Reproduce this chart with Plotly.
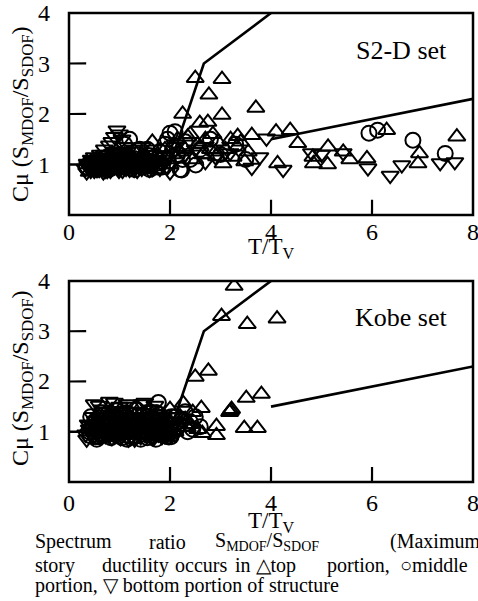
import plotly.graph_objects as go

# ---------------- data ----------------
# design bounds (same in both panels)
bound_upper_x = [0, 2, 2.67, 4]
bound_upper_y = [1, 1, 3, 4]
bound_lower_x = [4, 8]
bound_lower_y = [1.5, 2.3]

# S2-D set
s2d_top_x = [0.4,0.5,0.6,0.7,0.8,0.9,1.0,1.1,1.2,1.3,1.4,1.5,1.6,1.65,1.7,1.8,1.9,2.0,2.05,2.15,
             2.25,2.3,2.4,2.45,2.5,2.55,2.59,2.65,2.7,2.75,2.77,2.8,2.85,2.92,2.95,3.03,3.03,3.05,3.1,3.2,
             3.33,3.34,3.48,3.55,3.62,3.70,4.10,4.13,4.38,4.53,4.84,4.83,5.12,5.13,5.43,5.56,5.90,6.29,6.91,6.94,7.68,
             0.45,0.65,0.85,1.05,1.25,1.45,1.75,1.95,2.2,2.35,2.6,2.9,3.25,3.4,
             0.55,0.75,0.95,1.15,1.35,1.55]
s2d_top_y = [0.85,1.0,0.9,1.05,0.95,1.1,0.9,1.2,1.0,1.1,0.95,1.2,1.05,1.45,0.9,1.1,1.3,1.0,1.2,1.5,
             2.0,1.3,1.6,1.1,2.71,1.4,1.82,1.2,1.5,1.84,2.38,1.3,1.6,1.16,1.45,2.69,1.98,1.02,1.3,1.5,
             1.35,1.56,1.06,1.25,1.58,2.12,1.65,1.02,1.68,1.42,1.02,1.15,1.00,1.35,1.25,1.10,1.12,1.68,1.02,1.22,1.55,
             1.0,0.95,1.15,1.0,0.92,1.1,1.2,1.15,1.25,1.55,1.35,1.25,1.15,1.45,
             0.9,1.05,0.98,0.9,1.02,1.0]

s2d_mid_x = [0.5,0.6,0.7,0.8,0.9,1.0,1.05,1.1,1.2,1.25,1.3,1.35,1.4,1.45,1.5,1.55,1.6,1.7,1.8,1.85,
             1.9,1.95,2.0,2.05,2.1,2.15,2.2,2.23,2.3,2.4,2.51,2.6,2.8,3.0,3.3,3.5,5.94,6.11,6.81,7.45,
             0.55,0.65,0.75,0.85,0.95,1.15,1.65,1.75,2.25,
             0.45,0.62,0.78,0.92,1.08,1.22,1.38,1.52,
             0.35,0.52,0.68,0.83,0.98,1.13,1.28,1.43,1.58,1.73,1.88]
s2d_mid_y = [0.95,1.05,0.9,1.1,1.0,1.2,0.95,1.4,1.5,1.05,0.9,1.2,1.3,0.95,1.1,1.3,0.9,1.15,1.25,0.95,
             1.4,1.5,1.62,1.3,1.65,1.2,0.9,0.89,1.45,1.1,0.99,1.3,1.5,1.2,1.4,1.1,1.62,1.68,1.48,1.22,
             1.0,0.92,1.05,0.98,1.1,1.0,1.05,0.95,1.1,
             1.02,0.98,0.9,1.05,1.1,0.98,1.02,1.0,
             0.95,1.08,1.12,0.92,0.98,1.15,1.12,1.08,1.18,1.02,1.12]

s2d_bot_x = [0.35,0.4,0.42,0.45,0.5,0.52,0.55,0.58,0.6,0.62,0.65,0.68,0.7,0.72,0.75,0.78,0.8,0.82,0.85,0.88,
             0.9,0.92,0.95,0.97,1.0,1.02,1.05,1.08,1.1,1.12,1.15,1.2,1.25,1.3,1.35,1.4,1.45,1.5,1.6,1.7,
             1.8,1.9,2.0,2.1,2.3,2.5,2.7,2.9,3.19,3.62,3.78,3.91,4.24,4.80,5.00,5.43,5.92,6.36,6.59,7.35,7.64,
             0.38,0.48,0.56,0.64,0.74,0.84,0.94,1.04,1.14,1.22,1.32,1.42,1.55,1.65,1.75,1.85,1.95,
             0.44,0.54,0.66,0.76,0.86,0.96,1.06,1.18,
             0.36,0.46,0.57,0.69,0.8,0.91,1.01,1.11,1.27,1.37,0.5,0.7,0.9,1.1,
             0.32,0.37,0.43,0.47,0.53,0.57,0.63,0.67,0.73,0.77,0.83,0.87,0.93,0.99,1.03,1.09,1.13,1.19,
             1.24,1.29,1.34,1.39,1.44,1.49,1.54,1.59,1.64,1.69]
s2d_bot_y = [0.85,1.0,0.92,1.05,0.88,1.02,0.95,1.1,0.9,1.2,1.0,0.85,1.3,1.05,0.95,1.15,1.38,0.88,1.45,1.0,
             1.55,1.1,1.68,0.92,1.6,1.2,1.5,0.95,1.35,1.05,1.25,0.9,1.1,1.3,0.88,1.05,1.35,0.95,1.2,1.0,
             0.92,1.1,0.85,1.4,1.2,1.3,1.05,1.15,1.23,0.94,1.15,1.52,0.9,1.23,1.20,1.23,0.93,0.78,0.99,1.03,1.05,
             0.95,1.08,0.98,1.12,1.02,0.92,1.05,0.98,1.1,1.0,0.95,1.12,1.05,0.92,1.08,1.0,0.95,
             1.1,0.9,1.05,0.88,1.22,1.0,0.88,1.12,
             1.02,0.95,0.98,0.95,1.05,0.97,0.93,1.0,0.97,1.12,1.15,1.2,1.25,1.15,
             0.92,0.98,0.88,1.0,1.08,0.9,0.96,1.1,0.88,1.02,1.12,0.95,1.02,0.88,1.08,1.0,0.92,1.05,
             0.98,0.9,1.1,0.95,0.92,1.05,1.0,0.9,0.98,1.05]

# Kobe set
kobe_top_x = [0.5,0.7,0.9,1.1,1.3,1.5,1.7,1.9,2.1,2.2,0.6,1.0,1.4,1.8,2.0,
              2.26,2.34,2.45,2.50,2.62,2.64,2.76,2.92,2.92,3.02,3.18,3.20,3.22,3.27,3.47,3.51,3.53,3.73,3.81,4.12,
              0.8,1.2,1.6,2.3,2.4,2.55,
              0.4,0.75,1.05,1.35,1.65,1.95]
kobe_top_y = [1.0,1.15,0.9,1.2,1.05,0.95,1.25,1.1,1.0,1.3,1.3,1.05,1.2,0.9,1.45,
              1.57,1.09,1.39,2.09,1.47,0.97,2.21,1.11,0.93,3.30,1.39,1.42,1.45,3.90,1.07,1.67,3.14,1.07,1.75,3.25,
              1.35,0.95,1.1,1.25,1.15,1.05,
              1.1,0.9,1.35,1.25,0.95,1.02]

kobe_mid_x = [0.4,0.5,0.6,0.7,0.8,0.9,1.0,1.1,1.2,1.3,1.4,1.5,1.6,1.7,1.8,1.9,2.0,2.1,2.2,2.3,2.4,2.5,2.6,
              0.45,0.65,0.85,1.05,1.25,1.45,1.65,1.85,2.05,2.25,2.45,1.77,
              0.55,0.75,0.95,1.15,1.35,1.55,1.75,1.95,2.15,2.35,
              0.42,0.62,0.82,1.02,1.22,1.42,1.62,1.82,2.02,0.72,0.92,1.12,1.32,1.52,1.72,1.92,
              0.58,0.88,1.18,1.48,1.78,2.08,0.68,0.98,1.28,1.58,1.88,
              0.43,0.53,0.63,0.73,0.83,0.93,1.03,1.13,1.23,1.33,1.43,1.53,1.63,1.73,1.83,1.93,2.03,2.13]
kobe_mid_y = [1.0,1.2,0.9,1.1,1.3,0.95,1.15,1.05,1.35,0.9,1.2,1.0,1.4,1.1,0.95,1.25,1.05,1.3,1.15,1.4,1.2,1.3,1.1,
              1.1,0.95,1.2,0.88,1.1,1.3,0.92,1.15,1.0,1.25,1.05,1.58,
              0.85,1.0,1.1,0.85,1.05,0.88,1.2,0.9,1.1,1.0,
              0.92,1.08,0.98,1.25,1.0,0.85,1.12,1.02,0.9,1.28,1.02,1.3,1.12,1.22,0.85,1.05,
              1.15,1.1,1.2,1.15,1.35,1.22,0.95,1.25,1.05,0.98,1.1,
              1.3,0.9,1.38,1.02,0.88,1.42,1.08,1.38,0.9,1.45,1.1,1.3,1.22,1.38,1.08,0.95,1.3,1.05]

kobe_bot_x = [0.35,0.4,0.45,0.5,0.55,0.6,0.65,0.7,0.75,0.8,0.85,0.9,0.95,1.0,1.05,1.1,1.15,1.2,1.25,1.3,
              1.35,1.4,1.45,1.5,1.55,1.6,1.65,1.7,1.75,1.8,1.85,1.9,1.95,2.0,2.05,2.1,
              0.38,0.48,0.58,0.68,0.78,0.88,0.98,1.08,1.18,1.28,1.38,1.48,1.58,1.68,1.78,1.88,1.98,2.08,
              0.42,0.52,0.62,0.72,0.82,0.92,1.02,1.12,1.22,1.32,1.42,1.52,1.62,1.72,1.82,1.92,2.02,
              0.6,0.9,1.2,1.5,1.7,
              0.47,0.67,0.87,1.07,1.27,1.47,1.67,1.87,0.57,0.77,0.97,1.17,1.37,1.57,1.77,
              0.33,0.41,0.49,0.56,0.64,0.71,0.79,0.86,0.94,1.01,1.09,1.16,1.24,1.31,1.39,1.46,1.54,1.61,
              1.69,1.76,1.84,1.91,1.99,2.06]
kobe_bot_y = [0.85,1.05,0.95,1.55,1.1,0.9,1.45,1.2,1.0,1.6,0.88,1.3,1.05,1.5,0.92,1.25,1.55,1.0,1.15,0.85,
              1.4,1.05,1.55,0.95,1.2,1.45,0.9,1.1,1.35,1.0,1.25,0.92,1.15,1.05,1.3,0.95,
              1.15,0.9,1.3,1.0,1.2,0.95,1.35,1.1,0.85,1.25,0.98,1.3,1.08,0.88,1.2,1.02,0.9,1.15,
              1.0,1.22,1.05,0.92,1.1,1.18,0.88,1.4,1.02,1.12,0.9,1.25,1.0,1.3,1.12,1.05,1.2,
              1.52,1.58,1.5,1.58,1.52,
              1.3,1.4,1.35,1.42,1.3,1.38,1.28,1.35,0.98,1.05,1.2,1.02,1.15,1.08,0.95,
              0.95,1.12,1.05,0.95,1.25,1.08,0.92,1.15,1.0,1.22,0.95,1.12,0.9,1.05,1.18,1.02,0.92,1.1,
              0.98,1.2,0.9,1.08,1.0,1.12]

x_ticks = [0, 2, 4, 6, 8]
y_ticks = [1, 2, 3, 4]

# ---------------- figure ----------------
SERIF = "Liberation Serif"
fig = go.Figure()

# inner tick lengths in each axis' own units (about 15 px / 17 px at ~50.5 px per unit)
XTICK_LEN = 0.3
YTICK_LEN = 0.34


def add_panel(xa, ya, top, mid, bot):
    # inside tick marks, one small trace per tick
    for v in x_ticks[1:-1]:
        fig.add_trace(go.Scatter(x=[v, v + 0.001], y=[0.02, XTICK_LEN], mode="lines", xaxis=xa, yaxis=ya,
                                 showlegend=False, line=dict(color="black", width=2.2), hoverinfo="skip"))
    for v in y_ticks[1:-1]:
        fig.add_trace(go.Scatter(x=[0.02, YTICK_LEN], y=[v, v + 0.001], mode="lines", xaxis=xa, yaxis=ya,
                                 showlegend=False, line=dict(color="black", width=2.2), hoverinfo="skip"))
    for xs, ys in [(bound_upper_x, bound_upper_y), (bound_lower_x, bound_lower_y)]:
        fig.add_trace(go.Scatter(x=xs, y=ys, mode="lines", xaxis=xa, yaxis=ya,
                                 line=dict(color="black", width=2.6), showlegend=False, hoverinfo="skip"))
    for (xs, ys), sym in zip([top, mid, bot], ["triangle-up-open", "circle-open", "triangle-down-open"]):
        fig.add_trace(go.Scatter(x=xs, y=ys, mode="markers", xaxis=xa, yaxis=ya, showlegend=False,
                                 marker=dict(symbol=sym, size=15, color="black",
                                             line=dict(width=2.0, color="black"))))

add_panel("x", "y", (s2d_top_x, s2d_top_y), (s2d_mid_x, s2d_mid_y), (s2d_bot_x, s2d_bot_y))
add_panel("x2", "y2", (kobe_top_x, kobe_top_y), (kobe_mid_x, kobe_mid_y), (kobe_bot_x, kobe_bot_y))

hidden = dict(showgrid=False, zeroline=False, showline=False, ticks="", showticklabels=False,
              automargin=False)
fig.update_layout(
    template="none",
    width=478, height=601,
    margin=dict(l=69, r=5, t=13, b=119),
    paper_bgcolor="white", plot_bgcolor="white",
    xaxis=dict(hidden, domain=[0, 1], range=[0, 8], anchor="y"),
    yaxis=dict(hidden, domain=[0.5693, 1], range=[0, 4], anchor="x"),
    xaxis2=dict(hidden, domain=[0, 1], range=[0, 8], anchor="y2"),
    yaxis2=dict(hidden, domain=[0, 0.4286], range=[0, 4], anchor="x2"),
)

# frame and tick labels placed through each panel's axes
ann = []
for xr, yr, xlab_shift in [("x", "y", -17), ("x2", "y2", -21)]:
    fig.add_shape(type="rect", xref=f"{xr} domain", yref=f"{yr} domain", x0=0, x1=1, y0=0, y1=1,
                  line=dict(color="black", width=2.5), fillcolor="rgba(0,0,0,0)", layer="above")
    for v in x_ticks:
        ann.append(dict(text=str(v), xref=xr, yref=f"{yr} domain", x=v, y=0, yshift=xlab_shift,
                        showarrow=False, xanchor="center", yanchor="middle",
                        font=dict(family=SERIF, size=24, color="black")))
    for v in y_ticks:
        ann.append(dict(text=str(v), xref=f"{xr} domain", yref=yr, x=0, y=v, xshift=-17,
                        showarrow=False, xanchor="right", yanchor="middle",
                        font=dict(family=SERIF, size=24, color="black")))

ytitle = "Cμ (S<sub>MDOF</sub>/S<sub>SDOF</sub>)"
for yc in [0.7846, 0.2217]:
    ann.append(dict(text=ytitle, xref="paper", yref="paper", x=-0.1163, y=yc, textangle=-90,
                    showarrow=False, xanchor="center", yanchor="middle",
                    font=dict(family=SERIF, size=24, color="black")))
for yc in [0.4989, -0.0853]:
    ann.append(dict(text="T/T<sub>V</sub>", xref="paper", yref="paper", x=0.5, y=yc,
                    showarrow=False, xanchor="center", yanchor="middle",
                    font=dict(family=SERIF, size=23, color="black")))
ann.append(dict(text="S2-D set", xref="paper", yref="paper", x=0.824, y=0.921, showarrow=False,
                xanchor="center", yanchor="middle", font=dict(family=SERIF, size=26, color="black")))
ann.append(dict(text="Kobe set", xref="paper", yref="paper", x=0.822, y=0.3518, showarrow=False,
                xanchor="center", yanchor="middle", font=dict(family=SERIF, size=26, color="black")))

caption_words = [
    (-0.1279, [(-0.0891, "Spectrum"), (0.1931, "ratio"), (0.3564, "S<sub>MDOF</sub>/S<sub>SDOF</sub>"),
               (0.79, "(Maximum")]),
    (-0.177, [(-0.0891, "story"), (0.0767, "ductility"), (0.2574, "occurs"), (0.4059, "in △top"),
              (0.6337, "portion,"), (0.8144, "○middle")]),
    (-0.2217, [(-0.0891, "portion, ▽ bottom portion of structure")]),
]
for yc, words in caption_words:
    for xw, w in words:
        ann.append(dict(text=w, xref="paper", yref="paper", x=xw, y=yc, showarrow=False,
                        xanchor="left", yanchor="middle",
                        font=dict(family=SERIF, size=20, color="black")))
fig.update_layout(annotations=ann)

fig.write_html("out.html", config={"displayModeBar": False},
               post_script="document.body.style.margin='0px';")
